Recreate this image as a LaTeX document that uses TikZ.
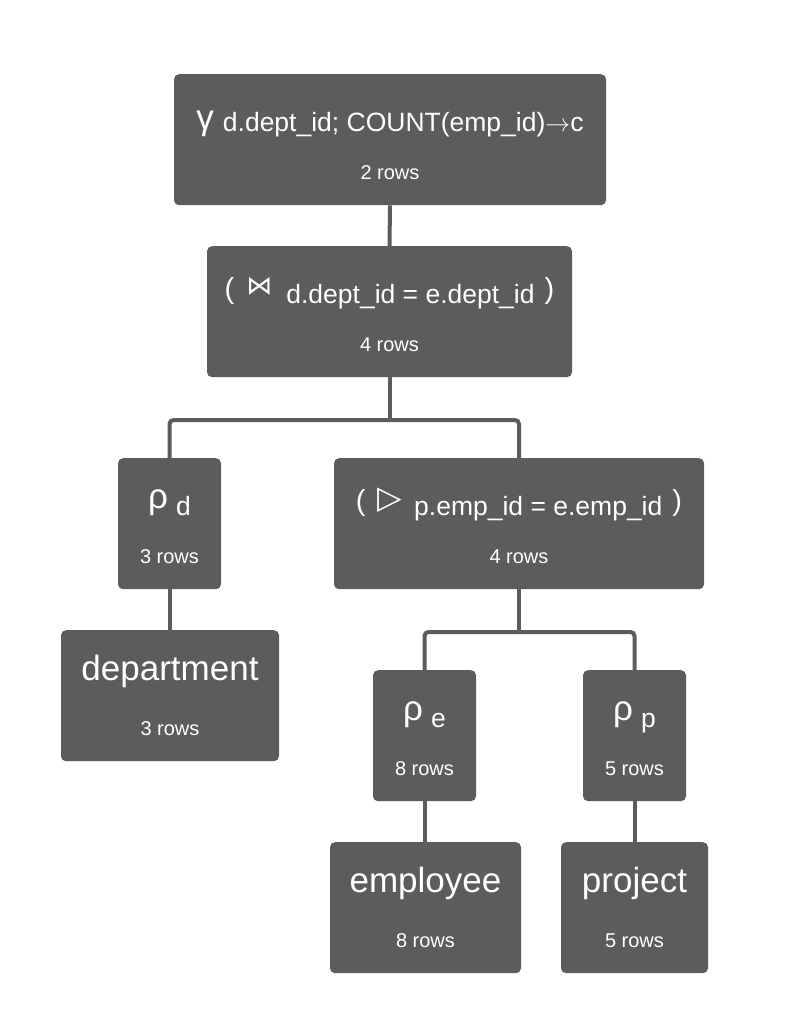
\documentclass[tikz,border=0pt]{standalone}
\usepackage{fontspec}
\setmainfont{Liberation Sans}
\newfontfamily\symfont{DejaVu Sans}

\definecolor{opgray}{HTML}{5C5C5C}

\newcommand\bigfnt{\fontsize{35}{40}\selectfont}
\newcommand\subfnt{\fontsize{26.5}{30}\selectfont}
\newcommand\rowfnt{\fontsize{20}{24}\selectfont}
\newcommand\opsym[1]{\raisebox{7pt}{\bigfnt #1}}
\newcommand\opparen[1]{\raisebox{5pt}{\fontsize{29}{32}\selectfont #1}}

\tikzset{
	opbox/.style={fill=opgray, rounded corners=5pt, text=white, inner sep=0pt,
		anchor=north, text height=57pt, text depth=74pt},
	rowtxt/.style={anchor=base, yshift=26pt, inner sep=0pt, text=white, font=\rowfnt},
	edge/.style={draw=opgray, line width=4pt, rounded corners=4pt},
}

\begin{document}
\begin{tikzpicture}[x=1pt, y=1pt]
		\useasboundingbox (0,0) rectangle (790,-1021);

		\node[opbox, minimum width=432pt, label={[rowtxt]south:2 rows}] (agg) at (390,-74)
			{\raisebox{2pt}{\bigfnt γ}\hspace{9pt}{\subfnt d.dept\_id; COUNT(emp\_id)$\rightarrow$c}};
		\node[opbox, minimum width=365pt, label={[rowtxt]south:4 rows}] (join) at (389.5,-246)
			{\opparen{(}\hspace{12pt}\raisebox{9pt}{\symfont\fontsize{26}{30}\selectfont ⋈}\hspace{14pt}{\subfnt d.dept\_id = e.dept\_id}\hspace{10pt}\opparen{)}};
		\node[opbox, minimum width=103pt, label={[rowtxt]south:3 rows}] (rhod) at (169.5,-458)
			{\opsym{ρ}\hspace{8pt}{\subfnt d}};
		\node[opbox, minimum width=370pt, label={[rowtxt]south:4 rows}] (semi) at (519,-458)
			{\opparen{(}\hspace{12pt}\raisebox{7pt}{\symfont\fontsize{32}{36}\selectfont ▷}\hspace{12pt}{\subfnt p.emp\_id = e.emp\_id}\hspace{10pt}\opparen{)}};
		\node[opbox, minimum width=218pt, label={[rowtxt]south:3 rows}] (dept) at (170,-630)
			{\opsym{department}};
		\node[opbox, minimum width=103pt, label={[rowtxt]south:8 rows}] (rhoe) at (424.5,-670)
			{\opsym{ρ}\hspace{8pt}{\subfnt e}};
		\node[opbox, minimum width=103pt, label={[rowtxt]south:5 rows}] (rhop) at (634.5,-670)
			{\opsym{ρ}\hspace{8pt}{\subfnt p}};
		\node[opbox, minimum width=191pt, label={[rowtxt]south:8 rows}] (emp) at (425.5,-842)
			{\opsym{employee}};
		\node[opbox, minimum width=147pt, label={[rowtxt]south:5 rows}] (proj) at (634.5,-842)
			{\opsym{project}};

		% connectors
		\coordinate (split1) at (389.5,-420);
		\coordinate (split2) at (519,-632);
		\draw[edge] (agg.south) -- (join.north);
		\draw[edge] (join.south) -- (split1);
		\draw[edge] (rhod.north) |- (split1) -| (semi.north);
		\draw[edge] (rhod.south) -- (rhod.south |- dept.north);
		\draw[edge] (semi.south) -- (split2);
		\draw[edge] (rhoe.north) |- (split2) -| (rhop.north);
		\draw[edge] (rhoe.south) -- (rhoe.south |- emp.north);
		\draw[edge] (rhop.south) -- (proj.north);
	\end{tikzpicture}
\end{document}
